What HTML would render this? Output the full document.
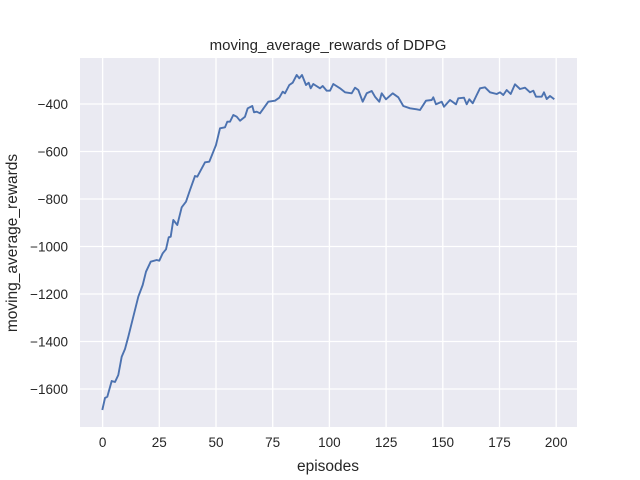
<!DOCTYPE html>
<html><head><style>body{margin:0;background:#fff}svg{display:block}text{font-family:"Liberation Sans",sans-serif;fill:#262626}</style></head><body>
<svg width="640" height="480" viewBox="0 0 640 480">
<rect x="80" y="58" width="497" height="369" fill="#eaeaf2"/>
<g stroke="#fff" stroke-width="1.3">
<line x1="102.6" y1="58" x2="102.6" y2="427"/><line x1="159.3" y1="58" x2="159.3" y2="427"/><line x1="216" y1="58" x2="216" y2="427"/><line x1="272.7" y1="58" x2="272.7" y2="427"/><line x1="329.4" y1="58" x2="329.4" y2="427"/><line x1="386.1" y1="58" x2="386.1" y2="427"/><line x1="442.8" y1="58" x2="442.8" y2="427"/><line x1="499.5" y1="58" x2="499.5" y2="427"/><line x1="556.2" y1="58" x2="556.2" y2="427"/>
<line x1="80" y1="104" x2="577" y2="104"/><line x1="80" y1="151.5" x2="577" y2="151.5"/><line x1="80" y1="199" x2="577" y2="199"/><line x1="80" y1="246.5" x2="577" y2="246.5"/><line x1="80" y1="294" x2="577" y2="294"/><line x1="80" y1="341.5" x2="577" y2="341.5"/><line x1="80" y1="389" x2="577" y2="389"/>
</g>
<polyline fill="none" stroke="#4c72b0" stroke-width="1.9" stroke-linejoin="round" points="102.3,410 105,398 107.3,396.7 111.7,381 115,382 118.3,375 121.7,356.7 125,349 128.3,336.7 133.3,316.7 138.3,296.7 142.7,285 146,271.7 150.7,261.7 156.7,260 159.3,260.7 162.7,253.3 166,249.3 168.7,237.3 170.7,236.7 173.3,220 177.3,225 181.7,207.3 186,201.7 190,190 195,176 197.3,176.7 205,162.3 209.3,161.7 216,145 220,128.3 225,127.3 227.3,121.7 230,121.7 233.3,115 236.7,116.7 240,120.7 245,116.7 247.7,108.3 252.3,106 254,112.3 256.7,111.7 260,113.3 268.3,101.7 275,100.7 279.3,97.7 282.7,91.7 285,93.3 289.3,85 292.7,82.7 296.7,75 299.3,78.3 302,75 306,85 308.7,82.7 310.7,88.3 313.3,84 320,88.3 322.7,86 326.7,90.7 330,90.7 333.3,84 340,88.3 345,92.3 351.7,93.3 355,87.7 358.3,90 362.7,101.7 366.7,93.3 371.7,91 375,96.7 379.3,101.7 381.7,93.3 386,99.3 392.7,93.3 398.3,97.3 403.3,106 410,108.3 416.7,109.3 420,110 426,100.7 431.7,100 433.3,97.3 436,104.3 441.7,101.7 444,106.7 450,100 456,104.3 458.3,98.3 464,97.7 466.7,104.3 469.3,99.3 472.7,103.3 476.7,95 480,88.3 485,87.3 490,92.3 496.7,94 500,92.3 503.3,95 506.7,90 510.7,94 515,84.3 520,89 525,87.7 530,92.3 533.3,90.7 536,96.7 541.7,96.7 544,92.3 546.7,99 550,96 554.3,99.3"/>
<g font-size="13.5" text-anchor="middle">
<text x="102.6" y="447">0</text><text x="159.3" y="447">25</text><text x="216" y="447">50</text><text x="272.7" y="447">75</text><text x="329.4" y="447">100</text><text x="386.1" y="447">125</text><text x="442.8" y="447">150</text><text x="499.5" y="447">175</text><text x="556.2" y="447">200</text>
</g>
<g font-size="13.5" text-anchor="end">
<text x="68" y="109">−400</text><text x="68" y="156.5">−600</text><text x="68" y="204">−800</text><text x="68" y="251.5">−1000</text><text x="68" y="299">−1200</text><text x="68" y="346.5">−1400</text><text x="68" y="394">−1600</text>
</g>
<text x="328" y="471" font-size="15.5" text-anchor="middle">episodes</text>
<text transform="translate(17,243) rotate(-90)" font-size="15.5" text-anchor="middle">moving_average_rewards</text>
<text x="328" y="50" font-size="15" text-anchor="middle">moving_average_rewards of DDPG</text>
</svg>
</body></html>
